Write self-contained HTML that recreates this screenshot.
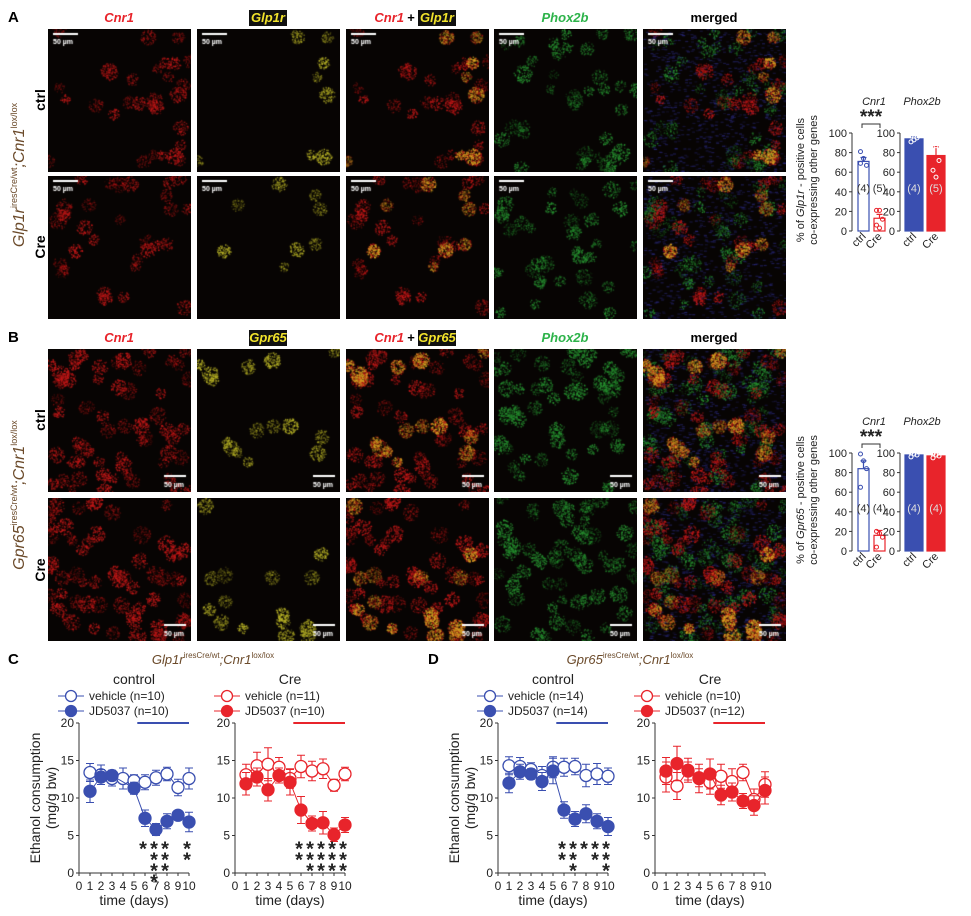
<!DOCTYPE html>
<html><head><meta charset="utf-8">
<style>
body{margin:0;background:#fff;}
#root{position:relative;width:971px;height:916px;overflow:hidden;font-family:"Liberation Sans",Arial,sans-serif;}
canvas.img{position:absolute;background:#080503;}
</style></head>
<body>
<div id="root">
<svg id="svg" width="971" height="916" style="position:absolute;left:0;top:0"></svg>
</div>
<script>
// ===== data =====
const days = [1,2,3,4,5,6,7,8,9,10];
const yTicks = [0,5,10,15,20];
const xTicks = [0,1,2,3,4,5,6,7,8,9,10];
const cCtrlVeh = [13.4,13.1,12.6,12.6,12.3,12.1,12.7,13.2,11.4,12.6];
const cCtrlVehErr = [1.2,1.3,1.0,1.4,0.8,1.0,1.0,0.9,1.1,1.4];
const cCtrlJD = [10.9,12.8,13.0,null,11.3,7.3,5.8,6.9,7.7,6.8];
const cCtrlJDErr = [1.5,1.0,0.7,0,0.8,1.1,0.8,1.0,0.6,1.3];
const cCreVeh = [13.1,14.3,14.5,14.1,12.6,14.2,13.6,13.9,11.7,13.2];
const cCreVehErr = [1.4,1.8,2.2,1.3,1.3,1.5,1.3,1.3,0.8,0.9];
const cCreJD = [11.9,12.8,11.1,13.0,12.1,8.4,6.6,6.7,5.1,6.4];
const cCreJDErr = [1.5,1.2,1.5,1.0,1.7,1.8,1.0,1.5,0.9,1.0];
const dCtrlVeh = [14.3,14.2,13.8,13.0,14.1,14.1,14.2,13.0,13.2,12.9];
const dCtrlVehErr = [1.2,1.2,0.9,1.2,1.4,1.2,1.1,1.5,1.4,1.1];
const dCtrlJD = [12.0,13.5,13.2,12.2,13.6,8.4,7.2,7.9,6.9,6.2];
const dCtrlJDErr = [1.3,1.0,0.7,1.2,1.7,1.1,1.0,1.2,1.0,1.2];
const dCreVeh = [12.8,11.6,13.7,12.7,12.1,12.9,12.2,13.4,9.8,11.8];
const dCreVehErr = [2.0,1.8,1.6,1.2,1.6,1.6,1.7,1.1,1.4,1.7];
const dCreJD = [13.6,14.6,13.6,12.6,13.2,10.4,10.8,9.6,9.0,11.0];
const dCreJDErr = [1.8,2.3,1.2,1.9,2.0,1.3,1.2,1.0,1.3,1.8];
const starsCCtrl = [0,0,0,0,0,1,4,3,0,2];
const starsCCre = [0,0,0,0,0,2,3,3,3,3];
const starsDCtrl = [0,0,0,0,0,2,3,1,2,3];
const starsDCre = [0,0,0,0,0,0,0,0,0,0];
// bar charts
const barCats = ["ctrl","Cre"];
const barTicks = [0,20,40,60,80,100];
const aCnr1 = [71,13]; const aCnr1Err=[4,4];
const aPhox = [94,77]; const aPhoxErr=[2,9];
const bCnr1 = [84,16]; const bCnr1Err=[8,5];
const bPhox = [98,97]; const bPhoxErr=[1,2];
const aCnr1Pts = [[81,74,67,69],[21,21,12,6,3]];
const aPhoxPts = [[97,93,95,91],[99,87,72,62,55]];
const bCnr1Pts = [[99,92,84,65],[20,18,14,4]];
const bPhoxPts = [[100,99,98,96],[99,98,97,95]];

const NS="http://www.w3.org/2000/svg";
const svg=document.getElementById('svg');
const root=document.getElementById('root');
function el(tag,attrs,parent){const e=document.createElementNS(NS,tag);for(const k in attrs)e.setAttribute(k,attrs[k]);(parent||svg).appendChild(e);return e;}
function txt(x,y,s,attrs,parent){const e=el('text',Object.assign({x:x,y:y,'font-family':'Liberation Sans, Arial, sans-serif','font-size':12,fill:'#222'},attrs||{}),parent);e.textContent=s;return e;}

// ===== microscopy images =====
let seed=7;function rnd(){seed=(seed*16807)%2147483647;return seed/2147483647;}
const colX=[48,197,346,494,643];
const rowY=[29,176,349,498];
const W=143;
function blobs(n){const a=[];for(let i=0;i<n;i++)a.push([rnd()*W,rnd()*W,5+rnd()*4,0.3+rnd()*0.7]);return a;}
function speckle(g,b,rgb,scale,k){
  const r=b[2]*scale;const n=Math.floor(r*r*k);
  for(let i=0;i<n;i++){const a=rnd()*6.283,d=Math.sqrt(rnd())*r;
    g.fillStyle='rgba('+rgb+','+(b[3]*(0.3+rnd()*0.6)).toFixed(2)+')';
    g.fillRect(b[0]+Math.cos(a)*d,b[1]+Math.sin(a)*d,1.4,1.4);}
}
for(let r=0;r<4;r++){
  const cells=blobs(r>=2?60:30);
  const yel=cells.filter((c,i)=>i%4==0);
  const grn=blobs(r>=2?55:35);
  for(let c=0;c<5;c++){
    const cv=document.createElement('canvas');cv.width=W;cv.height=W;cv.className='img';
    cv.style.left=colX[c]+'px';cv.style.top=rowY[r]+'px';
    
    
    root.appendChild(cv);
    const g=cv.getContext('2d');g.fillStyle='#070403';g.fillRect(0,0,W,W);
    if(c==4){for(let i=0;i<900;i++){g.fillStyle='rgba(45,45,140,'+(0.2+rnd()*0.4).toFixed(2)+')';g.fillRect(rnd()*W,rnd()*W,3,1.2);}}
    if(c==3||c==4){for(const b of grn)speckle(g,b,'40,150,50',1,c==4?0.8:1.2);}
    if(c==0||c==2||c==4){for(const b of cells)speckle(g,b,'200,25,25',1,1.3);}
    if(c==1||c==2||c==4){for(const b of yel)speckle(g,b,c==1?'190,185,40':'215,170,35',0.95,1.6);}
    g.fillStyle='#fff';
    if(r<2){g.fillRect(5,4,25,2);g.font='bold 7px Liberation Sans';g.fillText('50 µm',5,15);}
    else{g.fillRect(W-27,W-17,22,2);g.font='bold 7px Liberation Sans';g.fillText('50 µm',W-27,W-5);}
  }
}
// arrows
const arrows=[[346+118,29+70,0],[346+22,29+95,0],[346+97,29+133,0],[643+120,29+70,0],[643+14,29+95,0],[643+97,29+133,0],
[346+23,349+14,1],[346+58,349+48,1],[346+125,349+93,2],[643+24,349+14,1],[643+60,349+48,1],[643+122,349+93,2]];
for(const a of arrows){
 const g=el('g',{transform:'translate('+a[0]+','+a[1]+') rotate('+[180,-135,135][a[2]]+')'});
 
 el('path',{d:'M0,-9 L0,0',stroke:'#ffe600','stroke-width':2.5},g);
 el('path',{d:'M-4.5,-3 L0,3 L4.5,-3 Z',fill:'#ffe600'},g);
}

// column headers
function header(y,sec){
 const h=[["Cnr1",119,'#e8242b'],[sec,268,'yel'],["",417,'mix'],["Phox2b",565,'#2db34a'],["merged",714,'#000']];
 h.forEach((d,i)=>{
  if(d[2]=='yel'){el('rect',{x:d[1]-19,y:y-12,width:38,height:16,fill:'#111'});txt(d[1],y,d[0],{fill:'#f1e32b','font-weight':'bold','font-style':'italic','text-anchor':'middle','font-size':13});}
  else if(d[2]=='mix'){txt(d[1]-13,y,'Cnr1',{fill:'#e8242b','font-weight':'bold','font-style':'italic','text-anchor':'end','font-size':13});txt(d[1]-6,y,'+',{'font-weight':'bold','text-anchor':'middle','font-size':13,fill:'#000'});el('rect',{x:d[1]+1,y:y-12,width:38,height:16,fill:'#111'});txt(d[1]+20,y,sec,{fill:'#f1e32b','font-weight':'bold','font-style':'italic','text-anchor':'middle','font-size':13});}
  else txt(d[1],y,d[0],{fill:d[2],'font-weight':'bold','font-style':d[0]=='merged'?'normal':'italic','text-anchor':'middle','font-size':13});
 });
}
header(22,'Glp1r');header(342,'Gpr65');
txt(8,22,'A',{'font-weight':'bold','font-size':15,fill:'#000'});
txt(8,342,'B',{'font-weight':'bold','font-size':15,fill:'#000'});
txt(8,664,'C',{'font-weight':'bold','font-size':15,fill:'#000'});
txt(428,664,'D',{'font-weight':'bold','font-size':15,fill:'#000'});
function side(cy,gene){const g=el('g',{transform:'translate(24,'+cy+') rotate(-90)'});
 const t=el('text',{x:0,y:0,'text-anchor':'middle','font-family':'Liberation Sans, Arial, sans-serif','font-size':16,'font-style':'italic',fill:'#6b4a2a'},g);
 t.innerHTML=gene+'<tspan font-size="9" dy="-7" font-style="normal">iresCre/wt</tspan><tspan dy="7">;Cnr1</tspan><tspan font-size="9" dy="-7" font-style="normal">lox/lox</tspan>';}
side(175,'Glp1r');side(495,'Gpr65');
function rowlab(cy,s){const g=el('g',{transform:'translate(45,'+cy+') rotate(-90)'});txt(0,0,s,{'text-anchor':'middle','font-weight':'bold','font-size':14,fill:'#000'},g);}
rowlab(100,'ctrl');rowlab(247,'Cre');rowlab(420,'ctrl');rowlab(570,'Cre');

// ===== bar charts =====
function barChart(ax,y0,y100,vals,errs,pts,title,filled,name){
 const g=el('g',{});
 const ys=v=>y0-(y0-y100)*v/100;
 txt(ax+22,y100-28,title,{'font-style':'italic','font-size':11,'text-anchor':'middle'},g);
 el('line',{x1:ax,y1:y0,x2:ax,y2:y100,stroke:'#333'},g);
 barTicks.forEach(t=>{el('line',{x1:ax-3,x2:ax,y1:ys(t),y2:ys(t),stroke:'#333'},g);txt(ax-5,ys(t)+4,String(t),{'text-anchor':'end','font-size':11},g);});
 const cols=['#3a4fb0','#e8242b'];
 vals.forEach((v,i)=>{const w=filled?18:11;const x=ax+(filled?5:6)+i*(filled?22:16);
  const b=el('rect',{x:x,y:ys(v),width:w,height:y0-ys(v),fill:filled?cols[i]:'#fff',stroke:cols[i],'stroke-width':1.2},g);
  
  el('path',{d:`M${x+w/2},${ys(v)} V${ys(v+errs[i])} M${x+w/2-3},${ys(v+errs[i])} H${x+w/2+3}`,stroke:cols[i],'stroke-width':1.2},g);
  pts[i].forEach((p,j)=>el('circle',{cx:x+w/2+((j%3)-1)*3,cy:ys(p),r:2,fill:'none',stroke:filled?'#fff':cols[i],'stroke-width':1},g));
  txt(x+w/2,ys(40),'('+pts[i].length+')',{'text-anchor':'middle','font-size':11,fill:filled?'#ddd':'#333'},g);
  const lg=el('g',{transform:`translate(${x+w/2+3},${y0+6}) rotate(-45)`},g);txt(0,0,barCats[i],{'text-anchor':'end','font-size':11},lg);
 });
 return g;
}
barChart(852,231,133,aCnr1,aCnr1Err,aCnr1Pts,'Cnr1',false,'bar-chart-a-cnr1');
barChart(900,231,133,aPhox,aPhoxErr,aPhoxPts,'Phox2b',true,'bar-chart-a-phox2b');
barChart(852,551,453,bCnr1,bCnr1Err,bCnr1Pts,'Cnr1',false,'bar-chart-b-cnr1');
barChart(900,551,453,bPhox,bPhoxErr,bPhoxPts,'Phox2b',true,'bar-chart-b-phox2b');
function sig(x1,x2,y){el('path',{d:`M${x1},${y+4} V${y} H${x2} V${y+4}`,stroke:'#333',fill:'none'});txt((x1+x2)/2,y-1,'***',{'text-anchor':'middle','font-size':19,'font-weight':'bold'});}
sig(862,880,124);sig(862,880,444);
function ylab(cx,cy,gene){const g=el('g',{transform:`translate(${cx},${cy}) rotate(-90)`});
 const t=el('text',{x:0,y:0,'text-anchor':'middle','font-family':'Liberation Sans, Arial, sans-serif','font-size':11,fill:'#222'},g);
 t.innerHTML='% of <tspan font-style="italic">'+gene+'</tspan> - positive cells';
 txt(0,13,'co-expressing other genes',{'text-anchor':'middle','font-size':11},g);}
ylab(804,180,'Glp1r');ylab(804,500,'Gpr65');

// ===== line charts =====
function lineChart(ax,vals,vErr,jd,jErr,stars,col,title,n1,n2,name){
 const g=el('g',{});
 const y0=873,y20=723,dx=11;
 const xs=d=>ax+d*dx, ys=v=>y0-(y0-y20)*v/20;
 el('line',{x1:ax,y1:y0,x2:ax,y2:y20,stroke:'#333'},g);
 el('line',{x1:ax,y1:y0,x2:xs(10),y2:y0,stroke:'#333'},g);
 yTicks.forEach(t=>{el('line',{x1:ax-3,x2:ax,y1:ys(t),y2:ys(t),stroke:'#333'},g);txt(ax-5,ys(t)+4,String(t),{'text-anchor':'end','font-size':12},g);});
 xTicks.forEach(t=>{el('line',{x1:xs(t),x2:xs(t),y1:y0,y2:y0+3,stroke:'#333'},g);txt(xs(t),y0+17,String(t),{'text-anchor':'middle','font-size':12},g);});
 txt(xs(5),905,'time (days)',{'text-anchor':'middle','font-size':14},g);
 txt(xs(5),684,title,{'text-anchor':'middle','font-size':14},g);
 el('line',{x1:xs(5.3),x2:xs(10),y1:y20,y2:y20,stroke:col,'stroke-width':2},g);
 const lx=ax-8;
 [[n1,false,696],[n2,true,711]].forEach(l=>{el('line',{x1:lx-13,x2:lx+13,y1:l[2],y2:l[2],stroke:col},g);el('circle',{cx:lx,cy:l[2],r:5.5,fill:l[1]?col:'#fff',stroke:col,'stroke-width':1.3},g);txt(lx+18,l[2]+4,l[0],{'font-size':12},g);});
 function series(v,e,filled,sname){
  const s=el('g',{},g);
  let d='';v.forEach((y,i)=>{if(y==null)return;d+=(d?'L':'M')+xs(days[i])+','+ys(y);});
  el('path',{d:d,stroke:col,fill:'none','stroke-width':1},s);
  v.forEach((y,i)=>{if(y==null)return;const x=xs(days[i]);
   el('path',{d:`M${x},${ys(y-e[i])}V${ys(y+e[i])}M${x-4},${ys(y-e[i])}H${x+4}M${x-4},${ys(y+e[i])}H${x+4}`,stroke:col,'stroke-width':1.1},s);});
  v.forEach((y,i)=>{if(y==null)return;const c=el('circle',{cx:xs(days[i]),cy:ys(y),r:6,fill:filled?col:'#fff',stroke:col,'stroke-width':1.3},s);});
 }
 series(vals,vErr,false,'vehicle-series');series(jd,jErr,true,'jd5037-series');
 stars.forEach((n,i)=>{for(let k=0;k<n;k++)txt(xs(days[i])-2,ys(5)+20+k*11,'*',{'text-anchor':'middle','font-size':20,'font-weight':'bold',fill:'#222'},g);});
}
lineChart(79,cCtrlVeh,cCtrlVehErr,cCtrlJD,cCtrlJDErr,starsCCtrl,'#3a4fb0','control','vehicle (n=10)','JD5037 (n=10)','line-chart-c-control');
lineChart(235,cCreVeh,cCreVehErr,cCreJD,cCreJDErr,starsCCre,'#e8242b','Cre','vehicle (n=11)','JD5037 (n=10)','line-chart-c-cre');
lineChart(498,dCtrlVeh,dCtrlVehErr,dCtrlJD,dCtrlJDErr,starsDCtrl,'#3a4fb0','control','vehicle (n=14)','JD5037 (n=14)','line-chart-d-control');
lineChart(655,dCreVeh,dCreVehErr,dCreJD,dCreJDErr,starsDCre,'#e8242b','Cre','vehicle (n=10)','JD5037 (n=12)','line-chart-d-cre');
function gtitle(cx,gene){const t=el('text',{x:cx,y:664,'text-anchor':'middle','font-family':'Liberation Sans, Arial, sans-serif','font-size':13,'font-style':'italic',fill:'#6b4a2a'});
 t.innerHTML=gene+'<tspan font-size="8" dy="-6" font-style="normal">iresCre/wt</tspan><tspan dy="6">;Cnr1</tspan><tspan font-size="8" dy="-6" font-style="normal">lox/lox</tspan>';}
gtitle(213,'Glp1r');gtitle(630,'Gpr65');
function elab(cx){const g=el('g',{transform:`translate(${cx},798) rotate(-90)`});txt(0,0,'Ethanol consumption',{'text-anchor':'middle','font-size':14},g);txt(0,16,'(mg/g bw)',{'text-anchor':'middle','font-size':14},g);}
elab(40);elab(459);
</script>
</body></html>
